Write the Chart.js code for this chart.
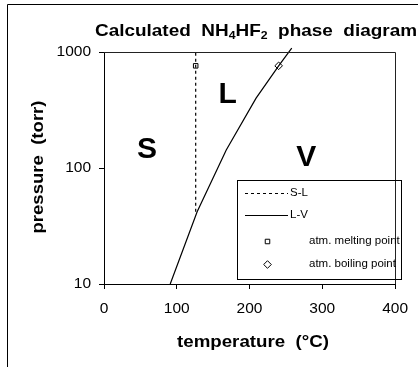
<!DOCTYPE html>
<html><head><meta charset="utf-8">
<script src="https://cdn.jsdelivr.net/npm/chart.js@4/dist/chart.umd.min.js"></script>
<style>html,body{margin:0;padding:0;background:#fff;} canvas{display:block;}</style>
</head><body>
<canvas id="c" width="418" height="367"></canvas>
<script>
// ---- data ----
const xTicks = [0, 100, 200, 300, 400];
const yTicks = [10, 100, 1000];
const lvTemp = [91, 128, 168, 209, 240, 258];
const lvPress = [10, 42, 143, 400, 760, 1080];
const slTemp = [126, 126];
const slPress = [42, 1000];
const meltTemp = [126];
const meltPress = [760];
const boilTemp = [240];
const boilPress = [760];
const regionNames = ['S', 'L', 'V'];
const regionTemp = [59, 170, 278];
const regionPress = [146, 434, 124];
const seriesNames = ['S-L', 'L-V', 'atm. melting point', 'atm. boiling point'];

const FONT = "'Liberation Sans', Arial, sans-serif";
const pts = (xs, ys) => xs.map((x, i) => ({x: x, y: ys[i]}));

function drawFit(ctx, parts, x, y, w, align) {
  let nat = 0;
  parts.forEach(p => { ctx.font = p.f; p.w = ctx.measureText(p.t).width; nat += p.w; });
  const sx = w / nat;
  ctx.save();
  let x0 = align === 'center' ? x - w / 2 : x;
  ctx.translate(x0, y);
  ctx.scale(sx, 1);
  ctx.textAlign = 'left';
  ctx.textBaseline = 'alphabetic';
  let cx = 0;
  parts.forEach(p => { ctx.font = p.f; ctx.fillText(p.t, cx, p.dy || 0); cx += p.w; });
  ctx.restore();
}

const decor = {
  id: 'decor',
  afterDraw(chart) {
    const ctx = chart.ctx, a = chart.chartArea;
    const xs = chart.scales.x, ys = chart.scales.y;
    ctx.save();
    ctx.fillStyle = '#000';
    ctx.strokeStyle = '#000';
    ctx.lineWidth = 1;
    // outer frame
    ctx.beginPath();
    ctx.moveTo(7.5, 370); ctx.lineTo(7.5, 4.5); ctx.lineTo(420, 4.5);
    ctx.stroke();
    // plot box top/right
    ctx.strokeStyle = '#222';
    ctx.beginPath();
    ctx.moveTo(a.left, Math.round(a.top) + 0.5);
    ctx.lineTo(Math.round(a.right) + 0.5, Math.round(a.top) + 0.5);
    ctx.lineTo(Math.round(a.right) + 0.5, a.bottom);
    ctx.stroke();
    // region labels
    ctx.font = 'bold 30px ' + FONT;
    ctx.textAlign = 'center';
    ctx.textBaseline = 'middle';
    regionNames.forEach((n, i) => {
      ctx.fillText(n, xs.getPixelForValue(regionTemp[i]), ys.getPixelForValue(regionPress[i]) + 1);
    });
    // title
    const B = 'bold 17px ' + FONT, S = 'bold 11px ' + FONT;
    drawFit(ctx, [
      {t: 'Calculated  NH', f: B}, {t: '4', f: S, dy: 3}, {t: 'HF', f: B},
      {t: '2', f: S, dy: 3}, {t: '  phase  diagram', f: B}
    ], 95, 36, 322, 'left');
    // x title
    drawFit(ctx, [{t: 'temperature  (\u00B0C)', f: B}], 253, 347, 152, 'center');
    // y title
    ctx.save();
    ctx.translate(43, 167);
    ctx.rotate(-Math.PI / 2);
    drawFit(ctx, [{t: 'pressure  (torr)', f: B}], 0, 0, 133, 'center');
    ctx.restore();
    // legend
    ctx.strokeStyle = '#000';
    ctx.strokeRect(237.5, 180.5, 164, 99);
    ctx.font = '11.5px ' + FONT;
    ctx.textAlign = 'left';
    ctx.textBaseline = 'middle';
    const ds = chart.data.datasets;
    const rows = [193, 215, 241, 264];
    ds.forEach((d, i) => {
      const y = rows[i];
      ctx.save();
      ctx.strokeStyle = '#000';
      if (d.pointRadius === 0) {
        ctx.lineWidth = d.borderWidth;
        ctx.setLineDash(d.borderDash || []);
        ctx.beginPath(); ctx.moveTo(245, y + 0.5); ctx.lineTo(288, y + 0.5); ctx.stroke();
        ctx.restore();
        ctx.fillStyle = '#000';
        ctx.fillText(d.label, 290, y);
      } else {
        ctx.fillStyle = '#fff';
        ctx.lineWidth = 1;
        Chart.helpers.drawPoint(ctx, {
          pointStyle: d.pointStyle, radius: d.pointRadius, rotation: 0,
          borderWidth: 1
        }, 267.5, y + 0.5);
        ctx.restore();
        ctx.fillStyle = '#000';
        ctx.fillText(d.label, 309, y);
      }
    });
    ctx.restore();
  }
};

new Chart(document.getElementById('c'), {
  type: 'scatter',
  data: {
    datasets: [
      {label: seriesNames[0], data: pts(slTemp, slPress), showLine: true, borderColor: '#000',
       borderWidth: 1.2, borderDash: [3, 3], pointRadius: 0},
      {label: seriesNames[1], data: pts(lvTemp, lvPress), showLine: true, borderColor: '#000',
       borderWidth: 1.2, pointRadius: 0, clip: false},
      {label: seriesNames[2], data: pts(meltTemp, meltPress), showLine: false, pointStyle: 'rect',
       pointRadius: 3.2, borderColor: '#000', backgroundColor: '#fff', borderWidth: 1},
      {label: seriesNames[3], data: pts(boilTemp, boilPress), showLine: false, pointStyle: 'rectRot',
       pointRadius: 3.8, borderColor: '#000', backgroundColor: '#fff', borderWidth: 1}
    ]
  },
  options: {
    responsive: false,
    animation: false,
    devicePixelRatio: 1,
    layout: {padding: {left: 0, top: 52, right: 15, bottom: 0}},
    plugins: {legend: {display: false}, tooltip: {enabled: false}, title: {display: false}},
    scales: {
      x: {
        type: 'linear', min: 0, max: 400,
        afterBuildTicks: s => { s.ticks = xTicks.map(v => ({value: v})); },
        afterFit: s => { s.height = 83; },
        grid: {drawOnChartArea: false, drawTicks: true, tickLength: 5, color: '#000'},
        border: {color: '#000', width: 1},
        ticks: {color: '#000', font: {family: FONT, size: 15.5}, padding: 10, maxRotation: 0,
                callback: v => String(v)}
      },
      y: {
        type: 'logarithmic', min: 10, max: 1000,
        afterBuildTicks: s => { s.ticks = yTicks.map(v => ({value: v})); },
        afterFit: s => { s.width = 104; },
        grid: {drawOnChartArea: false, drawTicks: true, tickLength: 5, color: '#000'},
        border: {color: '#000', width: 1},
        ticks: {color: '#000', font: {family: FONT, size: 15.5}, padding: 8,
                callback: v => String(v)}
      }
    }
  },
  plugins: [decor]
});
</script>
</body></html>
